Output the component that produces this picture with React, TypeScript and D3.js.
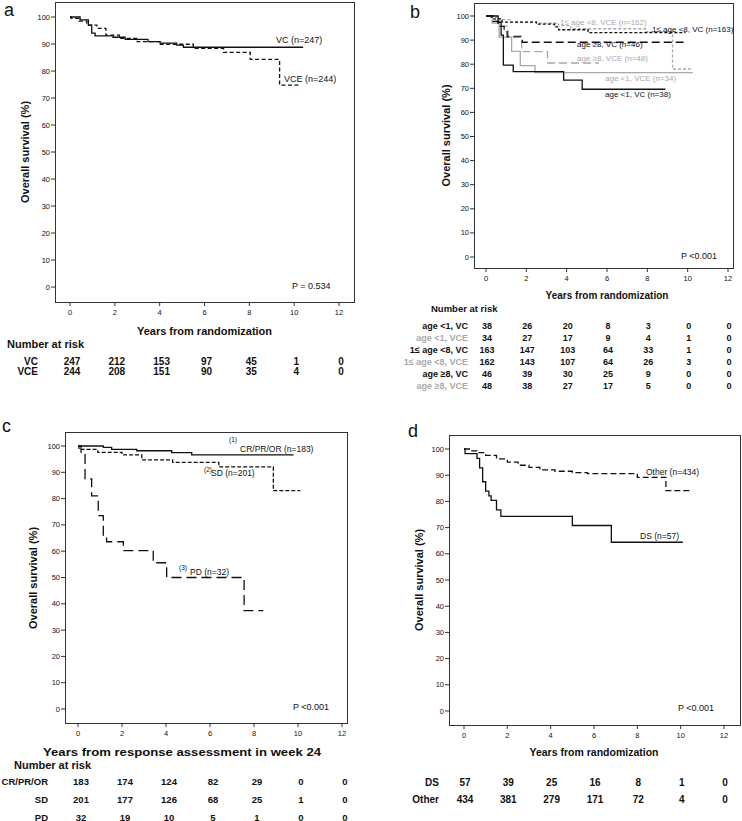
import React from 'react';
import * as d3 from 'd3';

type Pt = [number, number];

const FONT = '"Liberation Sans", Arial, sans-serif';
const GRAY = '#a9a9a9';

const yearTicks = [0, 2, 4, 6, 8, 10, 12];
const survivalTicks = [0, 10, 20, 30, 40, 50, 60, 70, 80, 90, 100];

// a: treatment arm  [years, % surviving], last point = end of follow-up
const vcA: Pt[] = [[0, 100], [0.45, 98.9], [0.82, 97], [0.97, 94], [1.12, 93], [1.92, 92.5], [2.46, 91.7], [3.48, 90.9], [4.02, 90.3], [4.76, 89.6], [5.06, 88.8], [10.4, 88.8]];
const vceA: Pt[] = [[0, 100], [0.05, 99.5], [0.4, 98.5], [0.75, 97], [1.2, 95.8], [1.6, 93.3], [2.2, 92.1], [3.0, 90.9], [4.0, 89.9], [5.5, 88.4], [6.85, 86.9], [8.04, 84.3], [9.35, 74.8], [10.27, 74.8]];
const riskNamesA = ['VC', 'VCE'];
const riskVcA = [247, 212, 153, 97, 45, 1, 0];
const riskVceA = [244, 208, 151, 90, 35, 4, 0];

// b: age group x arm
const lt1VcB: Pt[] = [[0, 100], [0.6, 97.4], [0.75, 92.1], [0.86, 79.6], [1.35, 76.9], [3.85, 73.4], [4.77, 69.6], [8.9, 69.6]];
const lt1VceB: Pt[] = [[0, 100], [0.3, 97.1], [0.65, 91.2], [1.27, 85.3], [1.7, 79.4], [2.43, 76.5], [10.25, 76.5]];
const midVcB: Pt[] = [[0, 100], [0.3, 98.8], [0.8, 97.5], [2.5, 96.6], [3.4, 95.5], [3.6, 94.3], [5.06, 93.1], [9.9, 93.1]];
const midVceB: Pt[] = [[0, 100], [0.15, 99.4], [0.6, 98.5], [1.2, 97.6], [2.5, 97], [3.6, 96], [4.2, 94.7], [7.9, 93.5], [9.25, 78], [10.2, 78]];
const ge8VcB: Pt[] = [[0, 100], [0.35, 97.8], [0.6, 95.7], [0.9, 93.5], [1.05, 91.3], [1.8, 89.1], [9.8, 89.1]];
const ge8VceB: Pt[] = [[0, 100], [0.3, 97.9], [0.7, 95.8], [1.1, 91.7], [1.77, 85.2], [3.05, 80.5], [5.6, 80.5]];
const riskNamesB = ['age <1, VC', 'age <1, VCE', '1\u2264 age <8, VC', '1\u2264 age <8, VCE', 'age \u22658, VC', 'age \u22658, VCE'];
const riskLt1VcB = [38, 26, 20, 8, 3, 0, 0];
const riskLt1VceB = [34, 27, 17, 9, 4, 1, 0];
const riskMidVcB = [163, 147, 103, 64, 33, 1, 0];
const riskMidVceB = [162, 143, 107, 64, 26, 3, 0];
const riskGe8VcB = [46, 39, 30, 25, 9, 0, 0];
const riskGe8VceB = [48, 38, 27, 17, 5, 0, 0];

// c: response at week 24
const crC: Pt[] = [[0, 100], [1.15, 99.5], [1.53, 98.7], [2.67, 98.2], [4.26, 97.5], [5.17, 96.6], [9.8, 96.6]];
const sdC: Pt[] = [[0, 100], [0.05, 98.7], [0.9, 97.6], [2.0, 96.6], [2.9, 94.7], [4.3, 93.8], [6.4, 92.1], [8.88, 83.0], [10.1, 83.0]];
const pdC: Pt[] = [[0, 100], [0.14, 97], [0.32, 87.5], [0.62, 81], [0.92, 73.5], [1.15, 66], [1.3, 63.6], [2.06, 60.2], [3.42, 55.6], [4.03, 50], [7.55, 37.4], [8.42, 37.4]];
const riskNamesC = ['CR/PR/OR', 'SD', 'PD'];
const riskCrC = [183, 174, 124, 82, 29, 0, 0];
const riskSdC = [201, 177, 126, 68, 25, 1, 0];
const riskPdC = [32, 19, 10, 5, 1, 0, 0];

// d: Down syndrome vs other
const dsD: Pt[] = [[0, 100], [0.05, 98.2], [0.6, 96.4], [0.72, 92.8], [0.86, 87.5], [1.0, 83.9], [1.15, 82.1], [1.25, 80.4], [1.5, 76.8], [1.7, 74.3], [5.0, 70.8], [6.8, 64.4], [10.1, 64.4]];
const otherD: Pt[] = [[0, 100], [0.3, 99.3], [0.6, 98.6], [1.0, 97.6], [1.5, 96.2], [2.0, 95], [2.5, 93.8], [3.0, 93], [3.5, 92], [4.2, 91.5], [5.0, 91], [5.7, 90.6], [8.0, 89.2], [9.32, 84.1], [10.4, 84.1]];
const riskNamesD = ['DS', 'Other'];
const riskDsD = [57, 39, 25, 16, 8, 1, 0];
const riskOtherD = [434, 381, 279, 171, 72, 4, 0];

interface Curve { data: Pt[]; color: string; dash?: string; width?: number }
interface Label { text: string; x: number; y: number; color?: string; size?: number }

interface PanelProps {
  letter: string;
  letterPos: [number, number];
  frame: [number, number, number, number];
  xRange: [number, number];
  yRange: [number, number];
  curves: Curve[];
  labels: Label[];
  labelSize: number;
  pText: string;
  pPos: [number, number];
  xTitle: string;
  xTitlePos: [number, number];
  xTitleSize: number;
  xTitleLen?: number;
  yTitlePos: [number, number];
  riskHeader?: [number, number];
  riskHeaderSize?: number;
  riskNames: string[];
  riskRows: number[][];
  riskColors: string[];
  riskLabelX: number;
  riskY: number[];
  riskSize: number;
  riskShift: number;
}

function KMPanel(p: PanelProps) {
  const x = d3.scaleLinear().domain([0, 12]).range(p.xRange);
  const y = d3.scaleLinear().domain([0, 100]).range(p.yRange);
  const line = d3.line<Pt>().x(d => x(d[0])).y(d => y(d[1])).curve(d3.curveStepAfter);
  const [fx0, fy0, fx1, fy1] = p.frame;

  return (
    <g fontFamily={FONT} fill="#111">
      <text x={p.letterPos[0]} y={p.letterPos[1]} fontSize={18}>{p.letter}</text>
      <rect x={fx0 + 0.5} y={fy0 + 0.5} width={fx1 - fx0} height={fy1 - fy0} fill="none" stroke="#333" strokeWidth={1} />

      {survivalTicks.map(t => (
        <g key={'y' + t}>
          <line x1={fx0 - 4} x2={fx0} y1={y(t)} y2={y(t)} stroke="#333" />
          <text x={fx0 - 5} y={y(t)} fontSize={7.5} textAnchor="end" dominantBaseline="central">{t}</text>
        </g>
      ))}
      {yearTicks.map(t => (
        <g key={'x' + t}>
          <line x1={x(t)} x2={x(t)} y1={fy1} y2={fy1 + 4} stroke="#333" />
          <text x={x(t)} y={fy1 + 10} fontSize={7.5} textAnchor="middle" dominantBaseline="central">{t}</text>
        </g>
      ))}

      {p.curves.map((c, i) => (
        <path key={i} d={line(c.data) ?? ''} fill="none" stroke={c.color} strokeWidth={c.width ?? 1.3} strokeDasharray={c.dash} />
      ))}

      {p.labels.map((l, i) => (
        <text key={i} x={l.x} y={l.y} fontSize={l.size ?? p.labelSize} fill={l.color ?? '#111'} dominantBaseline="central">{l.text}</text>
      ))}

      <text x={p.pPos[0]} y={p.pPos[1]} fontSize={9} dominantBaseline="central">{p.pText}</text>

      <text x={p.xTitlePos[0]} y={p.xTitlePos[1]} fontSize={p.xTitleSize} fontWeight="bold" textAnchor="middle" dominantBaseline="central"
        textLength={p.xTitleLen} lengthAdjust={p.xTitleLen ? 'spacingAndGlyphs' : undefined}>{p.xTitle}</text>
      <text transform={`translate(${p.yTitlePos[0]},${p.yTitlePos[1]}) rotate(-90)`} fontSize={11} fontWeight="bold" textAnchor="middle" dominantBaseline="central">Overall survival (%)</text>

      {p.riskHeader && (
        <text x={p.riskHeader[0]} y={p.riskHeader[1]} fontSize={p.riskHeaderSize ?? 11} fontWeight="bold" dominantBaseline="central">Number at risk</text>
      )}
      {p.riskNames.map((name, r) => (
        <g key={name} fontWeight="bold" fontSize={p.riskSize}>
          <text x={p.riskLabelX} y={p.riskY[r]} textAnchor="end" dominantBaseline="central" fill={p.riskColors[r]}>{name}</text>
          {p.riskRows[r].map((v, k) => (
            <text key={k} x={x(yearTicks[k]) + p.riskShift} y={p.riskY[r]} textAnchor="middle" dominantBaseline="central">{v}</text>
          ))}
        </g>
      ))}
    </g>
  );
}

export default function App() {
  return (
    <svg width={742} height={821} style={{ display: 'block', position: 'absolute', left: 0, top: 0, background: '#fff' }}>
      <KMPanel
        letter="a" letterPos={[4, 16]}
        frame={[55, 2, 354, 302]} xRange={[70, 339]} yRange={[287, 17]}
        curves={[
          { data: vceA, color: '#111', dash: '4,2.5' },
          { data: vcA, color: '#111' },
        ]}
        labels={[
          { text: 'VC (n=247)', x: 276, y: 40 },
          { text: 'VCE (n=244)', x: 284, y: 79 },
        ]}
        labelSize={9}
        pText="P = 0.534" pPos={[292, 286]}
        xTitle="Years from randomization" xTitlePos={[204.5, 331]} xTitleSize={11}
        yTitlePos={[25, 152]}
        riskHeader={[7, 344]}
        riskNames={riskNamesA} riskRows={[riskVcA, riskVceA]} riskColors={['#111', '#111']}
        riskLabelX={38} riskY={[361, 371]} riskSize={10} riskShift={2}
      />
      <KMPanel
        letter="b" letterPos={[410, 18]}
        frame={[474, 3, 733, 268]} xRange={[486, 728]} yRange={[257, 16]}
        curves={[
          { data: midVceB, color: GRAY, dash: '3,2' },
          { data: ge8VceB, color: GRAY, dash: '8,4' },
          { data: lt1VceB, color: GRAY },
          { data: midVcB, color: '#111', dash: '3,2' },
          { data: ge8VcB, color: '#111', dash: '8,4' },
          { data: lt1VcB, color: '#111' },
        ]}
        labels={[
          { text: '1\u2264 age <8, VCE (n=162)', x: 560, y: 22.5, color: GRAY },
          { text: '1\u2264 age <8, VC (n=163)', x: 652, y: 29 },
          { text: 'age \u22658, VC (n=46)', x: 577, y: 44 },
          { text: 'age \u22658, VCE (n=48)', x: 577, y: 58, color: GRAY },
          { text: 'age <1, VCE (n=34)', x: 605, y: 78.5, color: GRAY },
          { text: 'age <1, VC (n=38)', x: 605, y: 94.5 },
        ]}
        labelSize={8}
        pText="P <0.001" pPos={[681, 256]}
        xTitle="Years from randomization" xTitlePos={[607, 295]} xTitleSize={10}
        yTitlePos={[446, 135.5]}
        riskHeader={[431, 308]} riskHeaderSize={9.5}
        riskNames={riskNamesB}
        riskRows={[riskLt1VcB, riskLt1VceB, riskMidVcB, riskMidVceB, riskGe8VcB, riskGe8VceB]}
        riskColors={['#111', GRAY, '#111', GRAY, '#111', GRAY]}
        riskLabelX={468} riskY={[326, 338, 350, 362, 374, 386]} riskSize={9} riskShift={1}
      />
      <KMPanel
        letter="c" letterPos={[2, 432]}
        frame={[65, 432, 347, 723]} xRange={[78, 342]} yRange={[709, 446]}
        curves={[
          { data: pdC, color: '#111', dash: '10,5' },
          { data: sdC, color: '#111', dash: '4,2' },
          { data: crC, color: '#111' },
        ]}
        labels={[
          { text: '(1)', x: 229, y: 439, size: 6.5 },
          { text: 'CR/PR/OR (n=183)', x: 240, y: 449 },
          { text: '(2)', x: 204, y: 469, size: 6.5 },
          { text: 'SD (n=201)', x: 211, y: 473 },
          { text: '(3)', x: 179, y: 567, size: 6.5 },
          { text: 'PD (n=32)', x: 190, y: 572 },
        ]}
        labelSize={8.5}
        pText="P <0.001" pPos={[293, 707]}
        xTitle="Years from response assessment in week 24" xTitlePos={[182, 752]} xTitleSize={11.5} xTitleLen={278}
        yTitlePos={[33, 578]}
        riskHeader={[14, 765]}
        riskNames={riskNamesC} riskRows={[riskCrC, riskSdC, riskPdC]} riskColors={['#111', '#111', '#111']}
        riskLabelX={48} riskY={[781, 799, 817]} riskSize={9.5} riskShift={3}
      />
      <KMPanel
        letter="d" letterPos={[408, 437]}
        frame={[449, 435, 740, 725]} xRange={[464, 724]} yRange={[711, 449]}
        curves={[
          { data: otherD, color: '#111', dash: '6,3' },
          { data: dsD, color: '#111' },
        ]}
        labels={[
          { text: 'Other (n=434)', x: 646, y: 471.5 },
          { text: 'DS (n=57)', x: 640, y: 536 },
        ]}
        labelSize={8.5}
        pText="P <0.001" pPos={[678, 708]}
        xTitle="Years from randomization" xTitlePos={[594, 752]} xTitleSize={10.5}
        yTitlePos={[419, 580]}
        riskNames={riskNamesD} riskRows={[riskDsD, riskOtherD]} riskColors={['#111', '#111']}
        riskLabelX={439} riskY={[782, 799]} riskSize={10} riskShift={1}
      />
    </svg>
  );
}
